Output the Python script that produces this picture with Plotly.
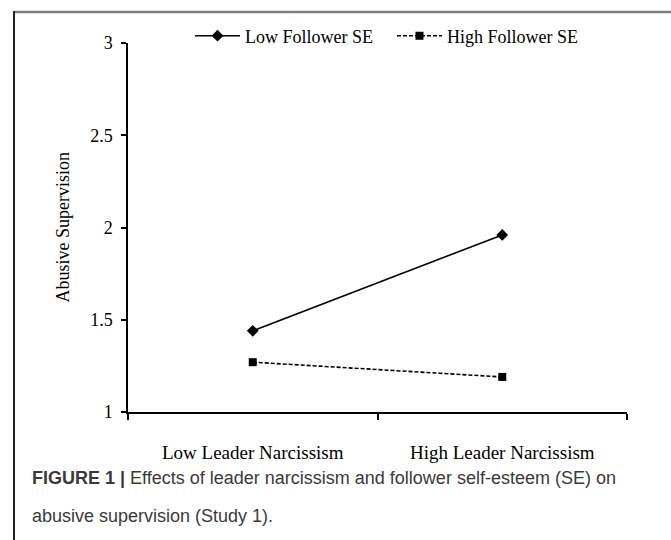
import plotly.graph_objects as go

categories = ["Low Leader Narcissism", "High Leader Narcissism"]
low_follower_se = [1.44, 1.96]
high_follower_se = [1.27, 1.19]
series_names = ["Low Follower SE", "High Follower SE"]
y_ticks = [1, 1.5, 2, 2.5, 3]
y_tick_labels = ["1", "1.5", "2", "2.5", "3"]

L, R, T, B = 128, 44, 43, 128
W, H = 671, 540
PW, PH = W - L - R, H - T - B

def px(x):
    return (x - L) / PW

def py(y):
    return (H - B - y) / PH

serif = "Liberation Serif"
sans = "Liberation Sans"

fig = go.Figure()
fig.add_trace(go.Scatter(
    x=categories, y=low_follower_se, name=series_names[0], mode="lines+markers",
    line=dict(color="black", width=1.6),
    marker=dict(symbol="diamond", size=9, color="black"),
))
fig.add_trace(go.Scatter(
    x=categories, y=high_follower_se, name=series_names[1], mode="lines+markers",
    line=dict(color="black", width=1.6, dash="4px,2px"),
    marker=dict(symbol="square", size=8, color="black"),
))

fig.update_layout(
    width=W, height=H,
    margin=dict(l=L, r=R, t=T, b=B, autoexpand=False),
    paper_bgcolor="white", plot_bgcolor="white",
    font=dict(family=serif, size=18, color="black"),
    showlegend=True,
    legend=dict(orientation="h", x=px(190), y=py(36), xanchor="left", yanchor="middle",
                font=dict(family=serif, size=18, color="black"), itemwidth=45,
                entrywidth=142, entrywidthmode="pixels", bgcolor="rgba(0,0,0,0)"),
    xaxis=dict(type="category", range=[-0.5, 1.5], showline=True, linecolor="black", linewidth=1.5,
               ticks="outside", tickson="boundaries", ticklen=6, tickcolor="black", tickwidth=1.5,
               showgrid=False, zeroline=False, ticklabelstandoff=22,
               tickfont=dict(family=serif, size=19, color="black"), fixedrange=True),
    yaxis=dict(range=[1, 3], tickvals=y_ticks, ticktext=y_tick_labels, showline=True,
               linecolor="black", linewidth=1.5, ticks="outside", ticklen=5, tickcolor="black",
               tickwidth=1.5, showgrid=False, zeroline=False, ticklabelstandoff=5,
               tickfont=dict(family=serif, size=18, color="black"), fixedrange=True),
    shapes=[
        dict(type="line", xref="paper", yref="paper", x0=px(14), x1=px(671), y0=py(12), y1=py(12),
             line=dict(color="#808080", width=2.5)),
        dict(type="line", xref="paper", yref="paper", x0=px(14), x1=px(14), y0=py(11), y1=py(540),
             line=dict(color="#222222", width=2)),
    ],
    annotations=[
        dict(text="Abusive Supervision", xref="paper", yref="paper", x=px(62), y=0.5,
             textangle=-90, showarrow=False, font=dict(family=serif, size=18, color="black"),
             xanchor="center", yanchor="middle"),
        dict(text="<b>FIGURE 1 |</b> Effects of leader narcissism and follower self-esteem (SE) on",
             xref="paper", yref="paper", x=px(30), y=py(478), xanchor="left", yanchor="middle",
             showarrow=False, font=dict(family=sans, size=18, color="#3a3a3a")),
        dict(text="abusive supervision (Study 1).",
             xref="paper", yref="paper", x=px(30), y=py(516), xanchor="left", yanchor="middle",
             showarrow=False, font=dict(family=sans, size=18, color="#3a3a3a")),
    ],
)

fig.write_html("out.html", config={"displayModeBar": False},
               post_script="document.body.style.margin='0';document.body.style.padding='0';")
